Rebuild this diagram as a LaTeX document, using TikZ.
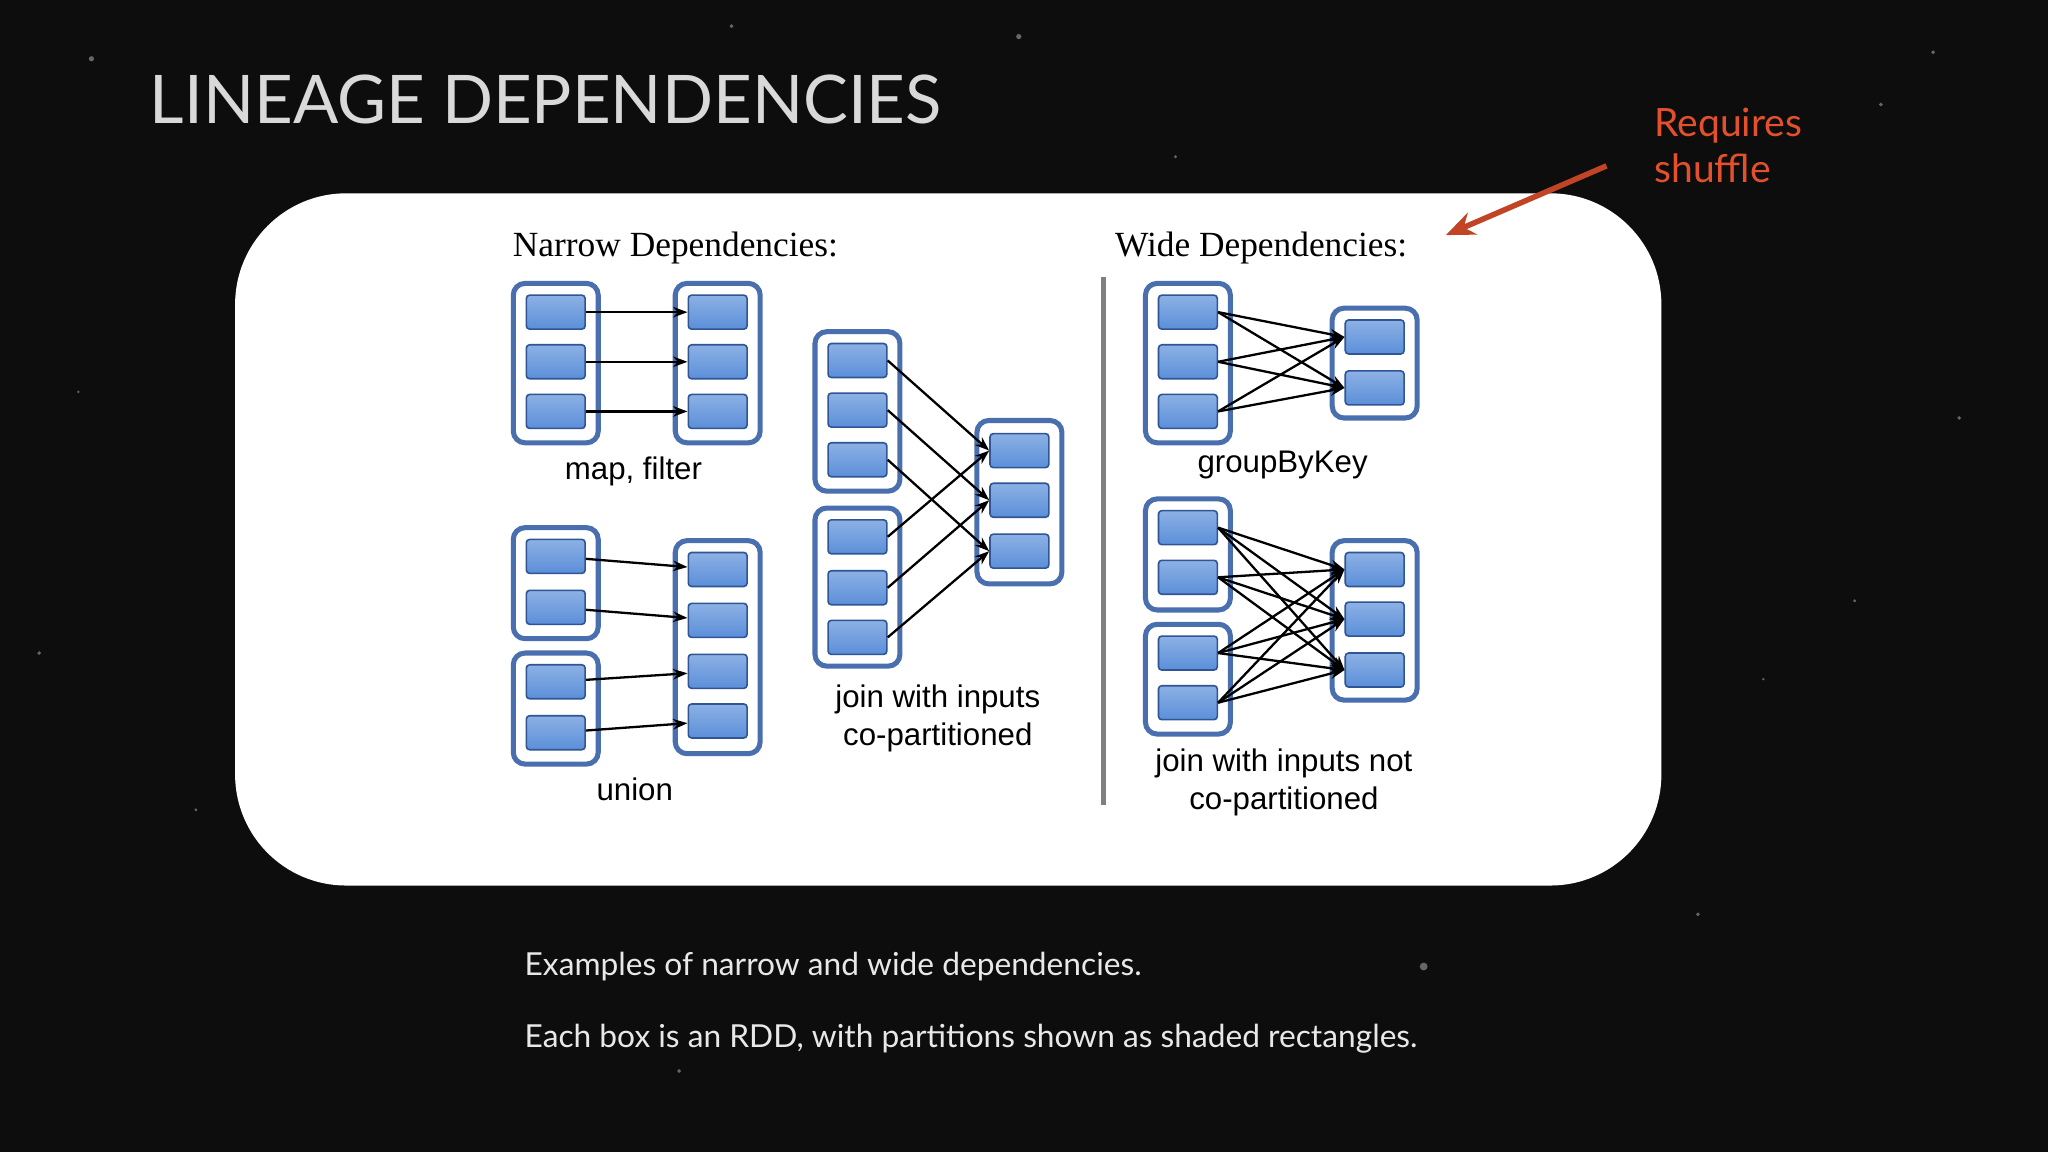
\documentclass[tikz,border=0pt]{standalone}
\usepackage{fontspec}
\setmainfont{Liberation Serif}
\newfontfamily\lab{Liberation Sans}
\newfontfamily\gothic{Lato}
\usetikzlibrary{arrows.meta}
\definecolor{pfill}{HTML}{5B8FD9}
\definecolor{pdraw}{HTML}{2F5595}
\definecolor{rdraw}{HTML}{4A6FAE}
\definecolor{redc}{HTML}{E3502B}
\definecolor{capc}{HTML}{E8E8E8}
\tikzset{
 part/.style={draw=pdraw,line width=0.35pt,top color=pfill!70!white,bottom color=pfill,rounded corners=0.25mm,minimum width=0.45cm,minimum height=0.26cm,inner sep=0},
 rdd/.style={draw=rdraw,line width=1.1pt,fill=white,rounded corners=0.9mm,minimum width=0.65cm,inner sep=0},
 arr/.style={-{Stealth[length=1.1mm,width=0.8mm]},line width=0.5pt},
 lbl/.style={font=\lab\fontsize{6.8}{8.2}\selectfont,align=center},
 head/.style={font=\fontsize{7.7}{8}\selectfont,anchor=west,inner sep=0}
}
\newcommand\rdd[4]{\node[rdd,minimum height=#4 cm] (#1) at (#2,#3) {};}
\newcommand\pp[3]{\node[part] (#1) at (#2,#3) {};}
\begin{document}
\begin{tikzpicture}[x=0.01cm,y=-0.01cm]
\fill[black!95!white] (0,0) rectangle (1568,882);
\foreach \a/\b/\r in {70/45/2,560/20/1.5,780/28/2,1440/80/1.5,1500/320/1.5,30/500/1.5,150/620/1.2,1300/700/1.5,1420/460/1.2,520/820/1.5,900/120/1.2,1480/40/1.5,60/300/1,1350/520/1,1090/740/3}
  \fill[white!40!black] (\a,\b) circle (\r);
\node[anchor=west,inner sep=0,text=white!85!black,font=\gothic\fontsize{14.6}{17}\selectfont] (title) at (114,76) {LINEAGE DEPENDENCIES};
\node[anchor=north west,inner sep=0,text=redc,align=left,font=\gothic\fontsize{8.5}{10}\selectfont] (req) at (1266,82) {Requires\\shuffle};
\fill[white,rounded corners=0.85cm] (180,148) rectangle (1272,678);
\coordinate (ra) at (1230,127);
\coordinate (rb) at (1107,180);
\draw[redc!85!black,line width=1.2pt,-{Stealth[length=2.2mm,width=1.8mm]}] (ra) -- (rb);
\node[anchor=west,inner sep=0,text=capc,font=\gothic\fontsize{6.9}{8}\selectfont] (c1) at (401,740) {Examples of narrow and wide dependencies.};
\node[anchor=west,inner sep=0,text=capc,font=\gothic\fontsize{6.9}{8}\selectfont] (c2) at (401,795) {Each box is an RDD, with partitions shown as shaded rectangles.};
\node[head] (nh) at (392,190) {Narrow Dependencies:};
\node[head] (wh) at (853,190) {Wide Dependencies:};
\coordinate (va) at (845,212); \coordinate (vb) at (845,616);
\draw[gray,line width=1pt] (va) -- (vb);
% map filter
\rdd{mfL}{425.5}{278}{1.22}\rdd{mfR}{549.5}{278}{1.22}
\foreach \i/\y in {1/239,2/277,3/315}{\pp{mfl\i}{425.5}{\y}\pp{mfr\i}{549.5}{\y}\draw[arr] (mfl\i) -- (mfr\i);}
\node[lbl] (t1) at (485,361) {map, filter};
% union
\rdd{uL1}{425.5}{446.5}{0.85}\rdd{uL2}{425.5}{542.5}{0.85}\rdd{uR}{549.5}{495.5}{1.63}
\pp{ul1}{425.5}{426}\pp{ul2}{425.5}{465}\pp{ul3}{425.5}{522}\pp{ul4}{425.5}{561}
\foreach \i/\y in {1/436,2/475,3/514,4/552}{\pp{ur\i}{549.5}{\y}\draw[arr] (ul\i) -- (ur\i);}
\node[lbl] (t2) at (486,604) {union};
% join co-partitioned
\rdd{jL1}{656.5}{315}{1.22}\rdd{jL2}{656.5}{449.5}{1.21}\rdd{jR}{780.5}{384.5}{1.25}
\foreach \i/\y in {1/276,2/314,3/352}{\pp{ja\i}{656.5}{\y}}
\foreach \i/\y in {1/411,2/450,3/488}{\pp{jb\i}{656.5}{\y}}
\foreach \i/\y in {1/345,2/383,3/422}{\pp{jr\i}{780.5}{\y}}
\foreach \i in {1,2,3}{\draw[arr] (ja\i.east) -- (jr\i.west);\draw[arr] (jb\i.east) -- (jr\i.west);}
\node[lbl] (t3) at (718,550) {join with inputs\\co-partitioned};
% groupByKey
\rdd{gL}{909.5}{278}{1.22}\rdd{gR}{1052.5}{278}{0.84}
\foreach \i/\y in {1/239,2/277,3/315}{\pp{gl\i}{909.5}{\y}}
\foreach \i/\y in {1/258,2/297}{\pp{gr\i}{1052.5}{\y}}
\foreach \i in {1,2,3}{\foreach \j in {1,2}{\draw[arr] (gl\i.east) -- (gr\j.west);}}
\node[lbl] (t4) at (982,356) {groupByKey};
% join not co-partitioned
\rdd{nL1}{909.5}{424.5}{0.85}\rdd{nL2}{909.5}{520}{0.84}\rdd{nR}{1052.5}{475}{1.22}
\pp{nl1}{909.5}{404}\pp{nl2}{909.5}{442}\pp{nl3}{909.5}{500}\pp{nl4}{909.5}{538}
\foreach \i/\y in {1/436,2/474,3/513}{\pp{nr\i}{1052.5}{\y}}
\foreach \i in {1,2,3,4}{\foreach \j in {1,2,3}{\draw[arr] (nl\i.east) -- (nr\j.west);}}
\node[lbl] (t5) at (983,599) {join with inputs not\\co-partitioned};
\end{tikzpicture}
\end{document}
